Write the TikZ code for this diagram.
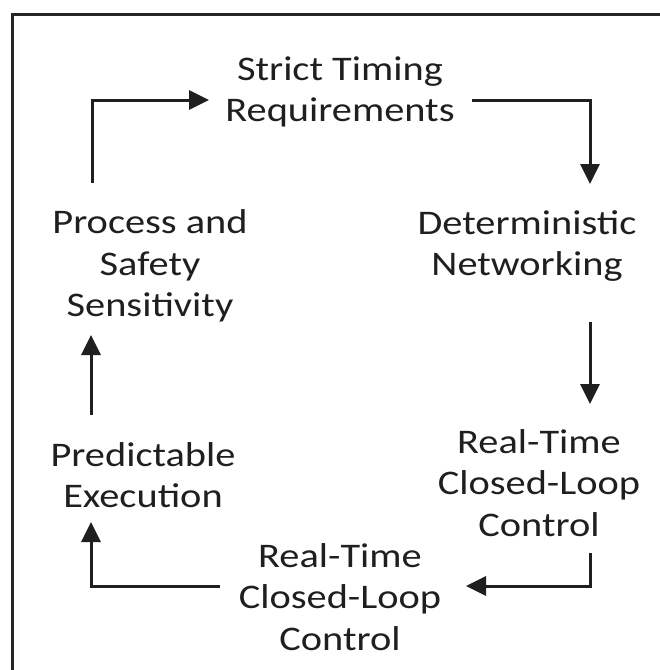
\documentclass[tikz,border=0pt]{standalone}
\usepackage{fontspec}
\setmainfont{Carlito}[FakeStretch=1.17]
\usetikzlibrary{arrows.meta}
\begin{document}
\begin{tikzpicture}[x=1pt,y=-1pt,
  lbl/.style={align=center,font=\fontsize{34.5}{41.5}\selectfont,text=black!88,inner sep=0pt},
  flow/.style={line width=3pt,draw=black!88,-{Triangle[length=20pt,width=19pt]}}]
\useasboundingbox (0,0) rectangle (660,670);
\begin{scope}
\clip (0,0) rectangle (660,670);
\draw[line width=3pt,black!85] (12,700) -- (12,14) -- (700,14);
\end{scope}
\node[lbl] (str) at (340,92) {Strict Timing\\Requirements};
\node[lbl] (det) at (527,246) {Deterministic\\Networking};
\node[lbl] (rt1) at (539,483) {Real-Time\\Closed-Loop\\Control};
\node[lbl] (rt2) at (340,597) {Real-Time\\Closed-Loop\\Control};
\node[lbl] (pre) at (143,475) {Predictable\\Execution};
\node[lbl] (pro) at (150,266) {Process and\\Safety\\Sensitivity};
\coordinate (c1) at (92,183);
\coordinate (c2) at (209,100);
\coordinate (c3) at (472,100);
\coordinate (c4) at (590,184);
\coordinate (c5) at (590,322);
\coordinate (c6) at (590,404);
\coordinate (c7) at (590,553);
\coordinate (c8) at (466,586);
\coordinate (c9) at (220,586);
\coordinate (c10) at (91,522);
\coordinate (c11) at (91,415);
\coordinate (c12) at (91,335);
\draw[flow] (c1) |- (c2);
\draw[flow] (c3) -| (c4);
\draw[flow] (c5) -- (c6);
\draw[flow] (c7) |- (c8);
\draw[flow] (c9) -| (c10);
\draw[flow] (c11) -- (c12);
\end{tikzpicture}
\end{document}
